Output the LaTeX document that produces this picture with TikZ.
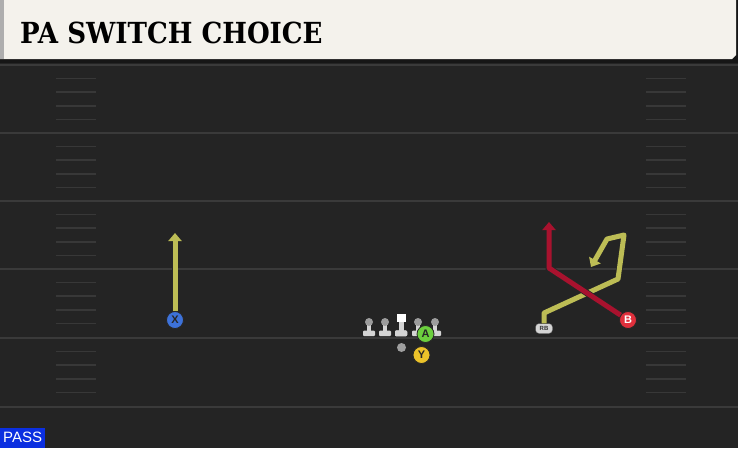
\documentclass[tikz,border=0pt]{standalone}
\usepackage{graphicx}
\usepackage{fontspec}
\setsansfont{Liberation Sans}
\newfontfamily\titlefont{DejaVu Serif}
\usetikzlibrary{arrows.meta}

\definecolor{turf}{HTML}{242424}
\definecolor{yardg}{HTML}{3A3A3A}
\definecolor{hashg}{HTML}{383838}
\definecolor{hdrcream}{HTML}{F4F2EC}
\definecolor{hdredge}{HTML}{AEAEAE}
\definecolor{hdrshadow}{HTML}{161616}
\definecolor{passblue}{HTML}{0B2FE0}
\definecolor{xblue}{HTML}{3D72D9}
\definecolor{agreen}{HTML}{6CCF3E}
\definecolor{yyellow}{HTML}{EBC22A}
\definecolor{bred}{HTML}{E0303C}
\definecolor{routey}{HTML}{BDBD55}
\definecolor{router}{HTML}{A8122E}
\definecolor{lmgray}{HTML}{D4D4D4}
\definecolor{lmhead}{HTML}{9C9C9C}

\tikzset{
  yardline/.style={draw=yardg, line width=1.8pt},
  hashmark/.style={draw=hashg, line width=1.6pt},
  player/.style={circle, draw=black!85, line width=0.8pt, minimum size=17pt,
    inner sep=0pt, font=\sffamily\bfseries\fontsize{11}{11}\selectfont},
  route/.style={line width=5pt, line join=round,
    preaction={draw=black!85, line width=6.6pt}},
}

% one lineman, #1 = x position
\newcommand{\olineman}[1]{%
  \fill[lmgray, rounded corners=1pt] (#1-6,330.5) rectangle (#1+6,336);
  \fill[lmgray] (#1-2.3,322) rectangle (#1+2.3,331);
  \fill[lmhead] (#1,322) circle (4);
}

\begin{document}
\begin{tikzpicture}[x=1pt,y=-1pt]
\useasboundingbox (0,0) rectangle (738,448);
\fill[turf] (0,0) rectangle (738,448);

% yard lines and hashes
\foreach \yl in {65,133,201,269,338,407}
  \draw[yardline] (0,\yl) -- (738,\yl);
\foreach \yl in {65,133,201,269,338}
  \foreach \k in {1,...,4} {
    \draw[hashmark] (56,\yl+13.6*\k) -- (96,\yl+13.6*\k);
    \draw[hashmark] (646,\yl+13.6*\k) -- (686,\yl+13.6*\k);
  }

% header
\fill[hdrshadow] (0,0) rectangle (738,63);
\fill[hdrcream] (0,0) -- (736,0) -- (736,55) -- (732,59) -- (0,59) -- cycle;
\fill[hdredge] (0,0) rectangle (4,59);
\node[anchor=base west, inner sep=0pt, font=\titlefont\bfseries\fontsize{29}{29}\selectfont]
  (title) at (20,43) {\scalebox{0.9}[1]{PA SWITCH CHOICE}};

% line
\foreach \lx in {369,385,418,435}
  \olineman{\lx}
\fill[lmgray, rounded corners=1pt] (395,330.5) rectangle (407,336);
\fill[lmgray] (399,321) rectangle (403.5,331);
\fill[white] (397,314) rectangle (405.5,322);
\fill[gray!75] (401.5,347.5) circle (4.5);

% players
\node[player, fill=xblue, text=black!85] (X) at (175,320) {X};
\node[player, fill=agreen, text=black!85] (A) at (425.5,334) {A};
\node[player, fill=yyellow, text=black!85] (Y) at (421.5,355) {Y};
\node[player, fill=bred, text=white] (B) at (628,320) {B};
\node[fill=lmgray, draw=black!70, rounded corners=3.5pt, minimum width=17pt,
  minimum height=10pt, inner sep=0pt, font=\sffamily\bfseries\fontsize{6}{6}\selectfont,
  text=black!80] (RB) at (544,328.5) {RB};

% routes
\coordinate (xtip) at (175,233);
\coordinate (rb1) at (544,313);
\coordinate (rb2) at (618,279);
\coordinate (rb3) at (624,235);
\coordinate (rb4) at (607,239);
\coordinate (rbtip) at (591,267);
\coordinate (bcut) at (549,268);
\coordinate (btip) at (549,222);

\draw[route, draw=routey, -{Triangle[length=8pt,width=13pt]}] (X) -- (xtip);
\draw[route, draw=routey, -{Triangle[length=8pt,width=13pt]}]
  (RB.north) -- (rb1) -- (rb2) -- (rb3) -- (rb4) -- (rbtip);
\draw[route, draw=router, -{Triangle[length=8pt,width=13pt]}] (B) -- (bcut) -- (btip);

% play type
\node[fill=passblue, text=white, anchor=south west, inner sep=0pt,
  minimum width=45pt, minimum height=20pt, font=\sffamily\fontsize{15}{15}\selectfont]
  (pass) at (0,448) {PASS};
\end{tikzpicture}
\end{document}
